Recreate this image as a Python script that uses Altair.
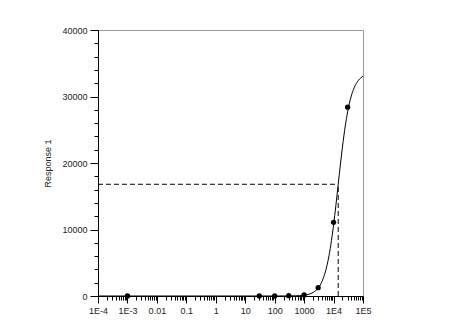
import altair as alt
import pandas as pd

# Measured data points
dose = [0.001, 30, 100, 300, 1000, 3000, 10000, 30000]
response = [0, 0, 0, 50, 150, 1250, 11080, 28400]

# Fitted curve
curve_x = [0.0001, 0.01, 1, 100, 300, 500, 1000, 1500, 2000, 3000, 4000, 5000, 6000,
           7000, 8500, 10000, 12000, 14400, 17000, 20000, 25000, 30000, 40000, 50000,
           70000, 100000]
curve_y = [0, 0, 0, 1, 10, 29, 124, 288, 524, 1202, 2136, 3288, 4611,
           6056, 8346, 10665, 13622, 16800, 19700, 22376, 25571, 27675, 30081, 31308,
           32429, 33036]

# EC50 marker
ec50_x = [14400]
ec50_y = [16800]
x_min = [0.0001]

# Axis ticks
x_major = [0.0001, 0.001, 0.01, 0.1, 1, 10, 100, 1000, 10000, 100000]
x_major_labels = ["1E-4", "1E-3", "0.01", "0.1", "1", "10", "100", "1000", "1E4", "1E5"]
x_minor = [m * 10.0 ** e for e in range(-4, 5) for m in range(2, 10)]
y_major = [0, 10000, 20000, 30000, 40000]
y_minor = [v for v in range(0, 40001, 2000) if v % 10000 != 0]

pts = pd.DataFrame({"x": dose, "y": response})
crv = pd.DataFrame({"x": curve_x, "y": curve_y})
ec = pd.DataFrame({"x": ec50_x, "y": ec50_y, "x0": x_min, "y0": [0]})

FONT = "Liberation Sans"
label_js = "[" + ",".join("'" + s + "'" for s in x_major_labels) + "]"

x_scale = alt.Scale(type="log", domain=[0.0001, 100000], nice=False)
y_scale = alt.Scale(domain=[0, 40000], nice=False)

x_axis = alt.Axis(
    values=x_major, orient="bottom",
    labelExpr=f"{label_js}[round(log(datum.value)/LN10)+4]",
    tickSize=7, title=None, grid=False, domainColor="black", tickColor="black",
    labelFont=FONT, labelFontSize=9, labelColor="#222", labelPadding=3,
    labelFlush=False, labelOverlap=False,
)
y_axis = alt.Axis(
    values=y_major, orient="left", format="d",
    tickSize=8,
    title="Response 1", titleFont=FONT, titleFontSize=9, titleFontWeight="normal",
    titleColor="#222", titlePadding=9,
    grid=False, domainColor="black", tickColor="black",
    labelFont=FONT, labelFontSize=9, labelColor="#222", labelPadding=3,
    labelFlush=False, labelOverlap=False,
)
x_minor_axis = alt.Axis(values=x_minor, orient="bottom", tickSize=4, labels=False,
                        domain=False, grid=False, title=None, tickColor="black")
y_minor_axis = alt.Axis(values=y_minor, orient="left", tickSize=4, labels=False,
                        domain=False, grid=False, title=None, tickColor="black")

curve = alt.Chart(crv).mark_line(color="black", strokeWidth=1, interpolate="monotone").encode(
    x=alt.X("x:Q", scale=x_scale, axis=x_axis),
    y=alt.Y("y:Q", scale=y_scale, axis=y_axis),
)
points = alt.Chart(pts).mark_circle(color="black", opacity=1, size=28).encode(
    x=alt.X("x:Q", scale=x_scale, axis=x_minor_axis),
    y=alt.Y("y:Q", scale=y_scale, axis=y_minor_axis),
)
hline = alt.Chart(ec).mark_rule(color="black", strokeDash=[5, 3], strokeWidth=1).encode(
    x=alt.X("x0:Q", scale=x_scale, axis=None), x2="x:Q",
    y=alt.Y("y:Q", scale=y_scale, axis=None),
)
vline = alt.Chart(ec).mark_rule(color="black", strokeDash=[5, 3], strokeWidth=1).encode(
    x=alt.X("x:Q", scale=x_scale, axis=None),
    y=alt.Y("y0:Q", scale=y_scale, axis=None), y2="y:Q",
)

chart = alt.layer(hline, vline, curve, points).resolve_axis(
    x="independent", y="independent"
).properties(
    width=265, height=266,
    autosize=alt.AutoSizeParams(type="none"),
    padding={"left": 98, "top": 30, "right": 96, "bottom": 33},
    background="white",
).configure_view(stroke="#9a9a9a", strokeWidth=1)

chart.save("out.html", embed_options={"renderer": "svg", "actions": False})
